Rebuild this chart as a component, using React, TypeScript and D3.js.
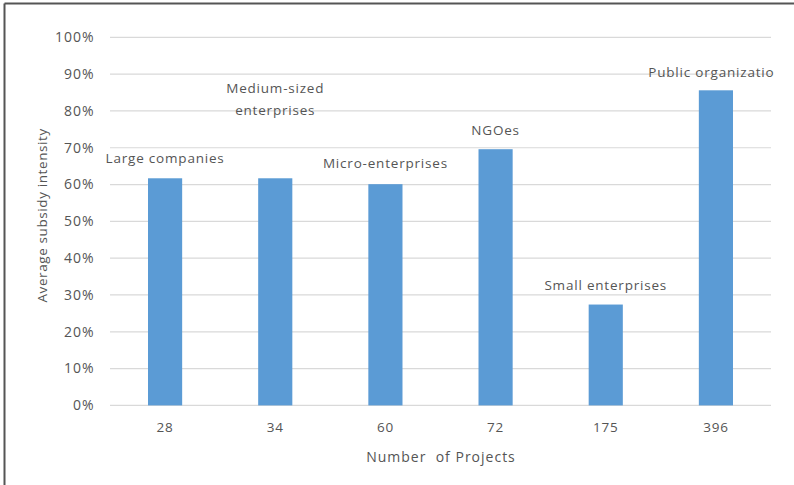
import React from "react";
import * as d3 from "d3";

// Number of projects per organisation type (x categories)
const projectCounts = ["28", "34", "60", "72", "175", "396"];
// Average subsidy intensity per category
const intensity = [0.617, 0.617, 0.601, 0.696, 0.274, 0.856];
// Organisation type shown above each bar
const orgLabels = [
  ["Large companies"],
  ["Medium-sized", "enterprises"],
  ["Micro-enterprises"],
  ["NGOes"],
  ["Small enterprises"],
  ["Public organization"],
];
const yTicks = [0, 0.1, 0.2, 0.3, 0.4, 0.5, 0.6, 0.7, 0.8, 0.9, 1.0];

// Vertical lift of each label's last line above its bar top (px)
const labelLift = [20, 68, 21, 19, 19, 18];

const W = 794;
const H = 485;
const plot = { left: 110, right: 771, top: 37.3, bottom: 405.4 };
const FONT = "'Open Sans', sans-serif";
const TEXT = "#555555";
const FS = 13.5;
const LS = 0.8;

export default function App() {
  const x = d3
    .scaleBand<string>()
    .domain(projectCounts)
    .range([plot.left, plot.right])
    .paddingInner(0.69)
    .paddingOuter(0.345);
  const y = d3.scaleLinear().domain([0, 1]).range([plot.bottom, plot.top]);
  const fmt = d3.format(".0%");

  return (
    <svg
      width={W}
      height={H}
      style={{ position: "absolute", left: 0, top: 0, background: "#fff" }}
      fontFamily={FONT}
    >
      <defs>
        <clipPath id="chartClip">
          <rect x={0} y={0} width={775} height={H} />
        </clipPath>
      </defs>
      <rect x={0} y={0} width={W} height={H} fill="#fff" />
      {/* frame */}
      <line x1={4.5} y1={3.5} x2={W} y2={3.5} stroke="#555" strokeWidth={2} />
      <line x1={4.5} y1={3.5} x2={4.5} y2={H} stroke="#555" strokeWidth={2} />

      {/* gridlines */}
      {yTicks.map((t) => (
        <line
          key={t}
          x1={plot.left}
          x2={plot.right}
          y1={y(t)}
          y2={y(t)}
          stroke="#D9D9D9"
          strokeWidth={1.2}
        />
      ))}
      {/* y tick labels */}
      {yTicks.map((t) => (
        <text
          key={"l" + t}
          x={94.5}
          y={y(t)}
          dy="0.35em"
          textAnchor="end"
          fontSize={14}
          letterSpacing={1}
          fill={TEXT}
        >
          {fmt(t)}
        </text>
      ))}

      {/* bars */}
      {projectCounts.map((c, i) => (
        <rect
          key={c}
          x={x(c)}
          y={y(intensity[i])}
          width={x.bandwidth()}
          height={y(0) - y(intensity[i])}
          fill="#5B9BD5"
        />
      ))}

      {/* x tick labels */}
      {projectCounts.map((c) => (
        <text
          key={"x" + c}
          x={(x(c) as number) + x.bandwidth() / 2}
          y={427}
          dy="0.35em"
          textAnchor="middle"
          fontSize={FS}
          letterSpacing={LS}
          fill={TEXT}
        >
          {c}
        </text>
      ))}

      {/* data labels */}
      <g clipPath="url(#chartClip)">
        {projectCounts.map((c, i) => {
          const cx = (x(c) as number) + x.bandwidth() / 2;
          const lines = orgLabels[i];
          const lastY = y(intensity[i]) - labelLift[i];
          return (
            <text
              key={"d" + c}
              textAnchor="middle"
              fontSize={FS}
              letterSpacing={LS}
              fill={TEXT}
            >
              {lines.map((ln, k) => (
                <tspan
                  key={k}
                  x={cx}
                  y={lastY - (lines.length - 1 - k) * 22}
                  dy="0.35em"
                >
                  {ln}
                </tspan>
              ))}
            </text>
          );
        })}
      </g>

      {/* axis titles */}
      <text
        x={441}
        y={457}
        dy="0.35em"
        textAnchor="middle"
        fontSize={14}
        letterSpacing={1}
        fill={TEXT}
        style={{ whiteSpace: "pre" }}
      >
        {"Number  of Projects"}
      </text>
      <text
        transform={`translate(42,${(plot.top + plot.bottom) / 2 - 6}) rotate(-90)`}
        dy="0.35em"
        textAnchor="middle"
        fontSize={13.5}
        letterSpacing={0.6}
        fill={TEXT}
      >
        Average subsidy intensity
      </text>
    </svg>
  );
}
